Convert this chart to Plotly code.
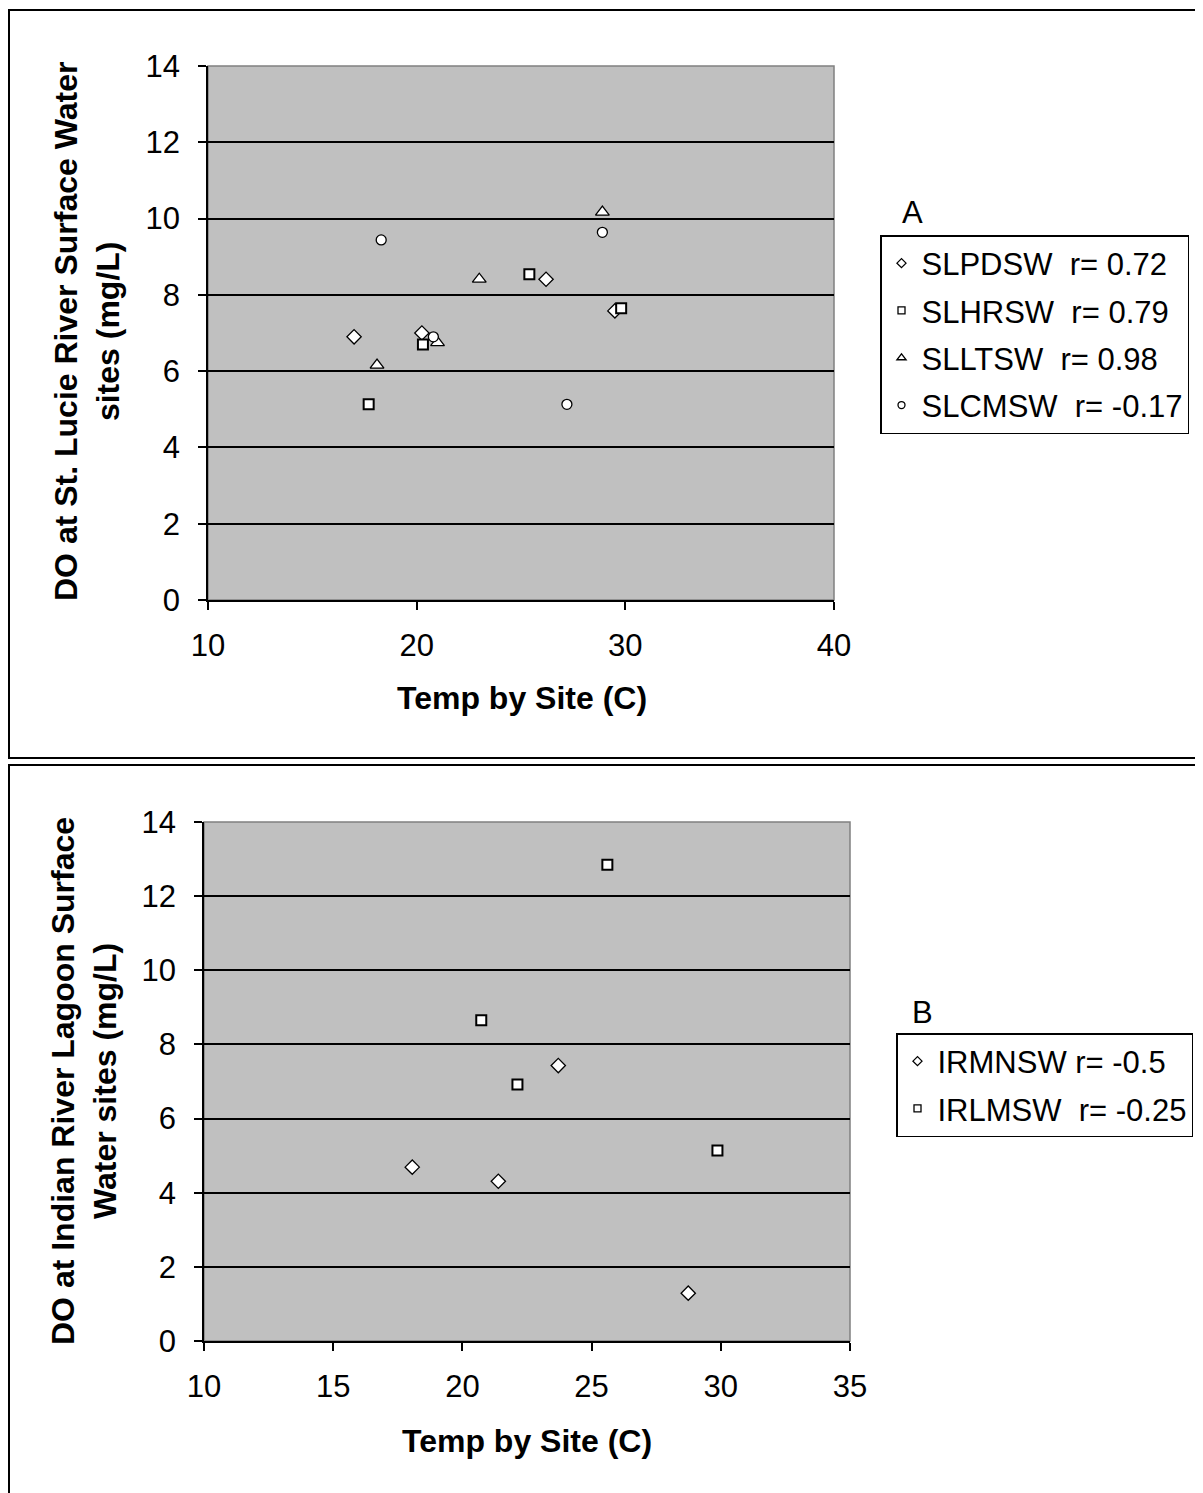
import plotly.graph_objects as go

# ---------------- Data ----------------
# Panel A: St. Lucie River surface water sites
slpdsw_x = [17.0, 20.25, 26.2, 29.5]
slpdsw_y = [6.90, 7.00, 8.41, 7.58]
slhrsw_x = [17.7, 20.3, 25.4, 29.8]
slhrsw_y = [5.13, 6.70, 8.54, 7.65]
slltsw_x = [18.1, 21.0, 23.0, 28.9]
slltsw_y = [6.16, 6.75, 8.41, 10.17]
slcmsw_x = [18.3, 20.8, 27.2, 28.9]
slcmsw_y = [9.44, 6.90, 5.13, 9.64]

# Panel B: Indian River Lagoon surface water sites
irmnsw_x = [18.06, 21.39, 23.71, 28.74]
irmnsw_y = [4.69, 4.31, 7.43, 1.29]
irlmsw_x = [20.73, 22.13, 25.61, 29.87]
irlmsw_y = [8.65, 6.92, 12.85, 5.14]

names_a = ["SLPDSW  r= 0.72", "SLHRSW  r= 0.79", "SLLTSW  r= 0.98", "SLCMSW  r= -0.17"]
names_b = ["IRMNSW r= -0.5", "IRLMSW  r= -0.25"]

W, H = 1203, 1493
OFF = 8  # page body margin
FONT = "Arial, Liberation Sans, sans-serif"
FS_TICK = 31
FS_TITLE = 32
FS_LEG = 31

def px(x):
    return (x - OFF) / W

def py(y):
    return 1 - (y - OFF) / H

fig = go.Figure()

# symbol -> (plot size, legend size)
SYM = {
    "diamond": (11, 7),
    "square": (10, 7),
    "triangle-up": (12, 8),
    "circle": (10, 7),
}

def add(x, y, name, symbol, xa, ya, legend, group):
    ps, ls = SYM[symbol]
    lw = 2 if symbol == "square" else 1.3
    fig.add_trace(go.Scatter(
        x=x, y=y, mode="markers", name=name, showlegend=False,
        marker=dict(symbol=symbol, size=ps, color="white", line=dict(color="black", width=lw)),
        xaxis=xa, yaxis=ya, legendgroup=group,
    ))
    # legend entry with the smaller legend symbol
    fig.add_trace(go.Scatter(
        x=[None], y=[None], mode="markers", name=name, showlegend=True,
        marker=dict(symbol=symbol, size=ls, color="white", line=dict(color="black", width=1.3)),
        xaxis=xa, yaxis=ya, legend=legend, legendgroup=group, hoverinfo="skip",
    ))

add(slpdsw_x, slpdsw_y, names_a[0], "diamond", "x", "y", "legend", "a1")
add(slhrsw_x, slhrsw_y, names_a[1], "square", "x", "y", "legend", "a2")
add(slltsw_x, slltsw_y, names_a[2], "triangle-up", "x", "y", "legend", "a3")
add(slcmsw_x, slcmsw_y, names_a[3], "circle", "x", "y", "legend", "a4")
add(irmnsw_x, irmnsw_y, names_b[0], "diamond", "x2", "y2", "legend2", "b1")
add(irlmsw_x, irlmsw_y, names_b[1], "square", "x2", "y2", "legend2", "b2")

axis_common = dict(
    zeroline=False, showline=True, linecolor="black", linewidth=1.5,
    ticks="outside", ticklen=8, tickcolor="black", tickwidth=1.5,
    tickfont=dict(family=FONT, size=FS_TICK, color="black"), automargin=False,
)

xa_dom = [px(208), px(834)]
ya_dom = [py(600), py(66)]
xb_dom = [px(204), px(850)]
yb_dom = [py(1341), py(822)]

leg_common = dict(xanchor="left", yanchor="top",
                  bordercolor="black", borderwidth=1.5, bgcolor="white",
                  font=dict(family=FONT, size=FS_LEG, color="black"),
                  traceorder="grouped", tracegroupgap=4, itemwidth=30)

fig.update_layout(
    width=W, height=H,
    margin=dict(l=0, r=0, t=0, b=0, pad=0, autoexpand=False),
    paper_bgcolor="white",
    plot_bgcolor="#C0C0C0",
    xaxis=dict(domain=xa_dom, range=[10, 40], tickvals=[10, 20, 30, 40], anchor="y",
               showgrid=False, ticklabelstandoff=9, **axis_common),
    yaxis=dict(domain=ya_dom, range=[0, 14], tickvals=[0, 2, 4, 6, 8, 10, 12, 14], anchor="x",
               showgrid=True, gridcolor="black", gridwidth=1.5, ticklabelstandoff=12,
               **axis_common),
    xaxis2=dict(domain=xb_dom, range=[10, 35], tickvals=[10, 15, 20, 25, 30, 35], anchor="y2",
                showgrid=False, ticklabelstandoff=9, **axis_common),
    yaxis2=dict(domain=yb_dom, range=[0, 14], tickvals=[0, 2, 4, 6, 8, 10, 12, 14], anchor="x2",
                showgrid=True, gridcolor="black", gridwidth=1.5, ticklabelstandoff=12,
                **axis_common),
    showlegend=True,
    legend=dict(x=px(880), y=py(235), **leg_common),
    legend2=dict(x=px(896), y=py(1033), **leg_common),
)

shapes = []
# gray plot-area borders (top/right)
for xr, yr in (("x", "y"), ("x2", "y2")):
    shapes.append(dict(type="rect", xref=f"{xr} domain", yref=f"{yr} domain",
                       x0=0, x1=1, y0=0, y1=1, line=dict(color="#808080", width=1.5),
                       layer="below"))
# outer frames
shapes.append(dict(type="rect", xref="paper", yref="paper",
                   x0=px(9), x1=1.05, y0=py(758), y1=py(10),
                   line=dict(color="black", width=2)))
shapes.append(dict(type="rect", xref="paper", yref="paper",
                   x0=px(9), x1=1.05, y0=-0.05, y1=py(765),
                   line=dict(color="black", width=2)))
fig.update_layout(shapes=shapes)

ann_font = dict(family=FONT, size=FS_TITLE, color="black")
let_font = dict(family=FONT, size=FS_LEG, color="black")
annotations = [
    dict(text="<b>Temp by Site (C)</b>", x=px(522), y=py(698), xref="paper", yref="paper",
         showarrow=False, font=ann_font, xanchor="center", yanchor="middle"),
    dict(text="<b>DO at St. Lucie River Surface Water<br>sites (mg/L)</b>", x=px(87), y=py(332),
         xref="paper", yref="paper", textangle=-90, showarrow=False, font=ann_font,
         xanchor="center", yanchor="middle"),
    dict(text="<b>Temp by Site (C)</b>", x=px(527), y=py(1441), xref="paper", yref="paper",
         showarrow=False, font=ann_font, xanchor="center", yanchor="middle"),
    dict(text="<b>DO at Indian River Lagoon Surface<br>Water sites (mg/L)</b>", x=px(84), y=py(1081),
         xref="paper", yref="paper", textangle=-90, showarrow=False, font=ann_font,
         xanchor="center", yanchor="middle"),
    dict(text="A", x=px(912), y=py(212), xref="paper", yref="paper", showarrow=False,
         font=let_font, xanchor="center", yanchor="middle"),
    dict(text="B", x=px(922), y=py(1012), xref="paper", yref="paper", showarrow=False,
         font=let_font, xanchor="center", yanchor="middle"),
]
fig.update_layout(annotations=annotations)

fig.write_html("out.html")
